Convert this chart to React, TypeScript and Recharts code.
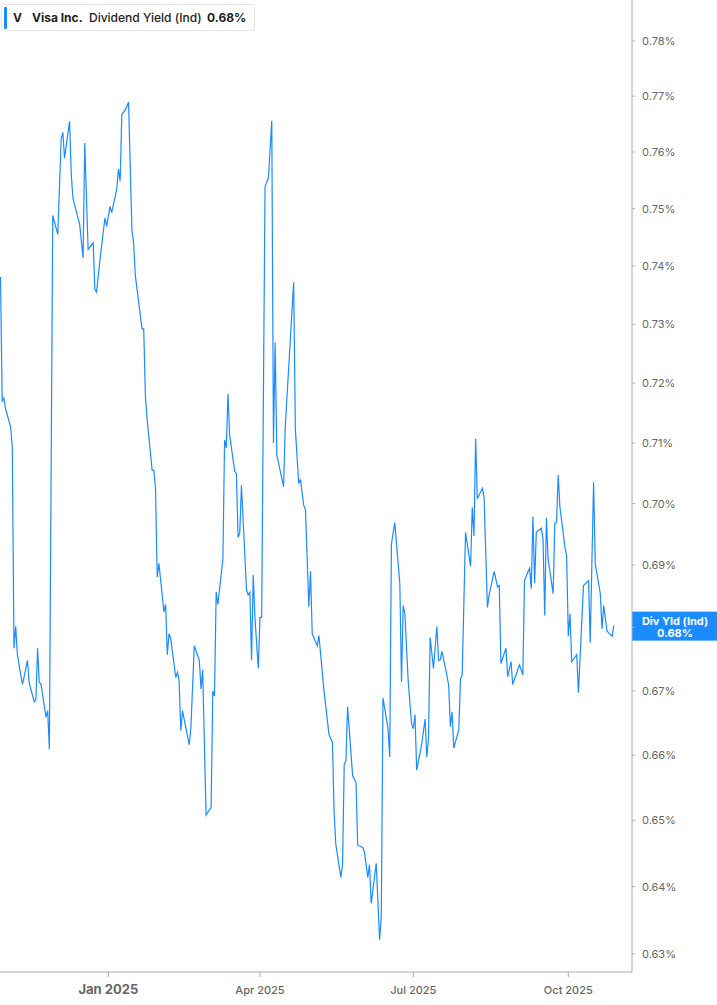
import * as React from "react";
import { Line, LineChart, ReferenceLine, XAxis, YAxis } from "recharts";

// days counted from 1 Jan 2025
const dayOffsets = [
  -64, -63, -62, -61, -58, -57, -56, -55, -54, -51, -50, -48, -47, -44, -43, -42, -41, -40, -37, -36,
  -35, -33, -30, -28, -27, -26, -23, -22, -21, -17, -15, -14, -12, -9, -8, -7, -5, -2, -1, 1,
  2, 5, 6, 7, 8, 10, 12, 14, 15, 16, 20, 21, 22, 23, 26, 27, 28, 29, 30, 33,
  34, 35, 36, 37, 40, 41, 42, 43, 44, 48, 49, 51, 54, 55, 56, 58, 61, 62, 63, 64,
  65, 68, 69, 70, 71, 72, 75, 76, 77, 78, 79, 82, 83, 84, 85, 86, 87, 89, 90, 91,
  93, 95, 97, 98, 99, 100, 104, 105, 110, 111, 113, 114, 116, 117, 119, 120, 121, 124, 125, 128,
  131, 133, 134, 135, 138, 139, 140, 141, 142, 145, 147, 148, 151, 152, 154, 155, 156, 159, 161, 162,
  163, 166, 167, 168, 170, 173, 174, 175, 176, 178, 180, 181, 182, 183, 186, 188, 189, 190, 191, 193,
  195, 196, 197, 198, 201, 202, 203, 204, 205, 208, 209, 210, 212, 215, 216, 217, 218, 219, 222, 223,
  225, 226, 229, 231, 232, 233, 236, 237, 239, 240, 244, 246, 247, 249, 250, 251, 252, 253, 254, 257,
  258, 259, 260, 261, 264, 265, 266, 267, 268, 271, 272, 273, 274, 275, 278, 279, 282, 285, 286, 288,
  289, 292, 293, 294, 296, 299, 300,
];

// dividend yield, percent
const yieldPct = [
  0.7381, 0.717, 0.7175, 0.7157, 0.7127, 0.7092, 0.6767, 0.6802, 0.6757, 0.671, 0.6722, 0.6748, 0.6713, 0.6683, 0.6686, 0.6767, 0.6713, 0.6711, 0.6659, 0.6669,
  0.6609, 0.7488, 0.7455, 0.7624, 0.7635, 0.7589, 0.7655, 0.756, 0.7518, 0.7472, 0.7414, 0.7616, 0.7429, 0.744, 0.736, 0.7355, 0.741, 0.7484, 0.7469, 0.7504,
  0.7493, 0.7535, 0.757, 0.7549, 0.7667, 0.7675, 0.7689, 0.7462, 0.7441, 0.7384, 0.7292, 0.7292, 0.7178, 0.714, 0.7055, 0.7055, 0.7025, 0.6881, 0.6903, 0.6825,
  0.6837, 0.6757, 0.679, 0.6783, 0.6721, 0.6729, 0.6716, 0.6638, 0.6669, 0.6616, 0.6642, 0.6771, 0.6748, 0.6703, 0.6733, 0.6508, 0.652, 0.67, 0.6692, 0.6857,
  0.6837, 0.691, 0.7105, 0.7092, 0.7182, 0.7113, 0.7053, 0.705, 0.6945, 0.6952, 0.703, 0.686, 0.6852, 0.6856, 0.6748, 0.6884, 0.6816, 0.6735, 0.6816, 0.6816,
  0.7539, 0.7554, 0.7656, 0.71, 0.7269, 0.708, 0.7028, 0.7127, 0.7372, 0.7123, 0.7033, 0.704, 0.6997, 0.699, 0.6833, 0.689, 0.679, 0.6771, 0.6787, 0.67,
  0.6631, 0.662, 0.6512, 0.6464, 0.6414, 0.6433, 0.6586, 0.6591, 0.6675, 0.6568, 0.6558, 0.6462, 0.6459, 0.6452, 0.6414, 0.6433, 0.6375, 0.6435, 0.6321, 0.6355,
  0.6689, 0.6641, 0.6597, 0.6934, 0.6969, 0.687, 0.6714, 0.6835, 0.6822, 0.6714, 0.6648, 0.6641, 0.6663, 0.6577, 0.6617, 0.6656, 0.6597, 0.6625, 0.6784, 0.6735,
  0.6802, 0.6748, 0.6749, 0.6762, 0.6724, 0.6708, 0.6644, 0.6667, 0.6611, 0.6639, 0.6719, 0.6724, 0.6953, 0.6898, 0.6994, 0.6947, 0.7107, 0.7008, 0.7025, 0.701,
  0.6832, 0.6852, 0.689, 0.6865, 0.6867, 0.6743, 0.6767, 0.6722, 0.6746, 0.671, 0.6741, 0.6725, 0.6875, 0.6889, 0.6895, 0.6862, 0.6979, 0.6871, 0.6953, 0.696,
  0.6942, 0.6819, 0.6977, 0.691, 0.6854, 0.6968, 0.6969, 0.7047, 0.6995, 0.6929, 0.6915, 0.6786, 0.6822, 0.6746, 0.6757, 0.6697, 0.6867, 0.6875, 0.6776, 0.7035,
  0.6902, 0.6854, 0.6798, 0.6835, 0.6794, 0.6786, 0.6803,
];

const yTicks = [0.63, 0.64, 0.65, 0.66, 0.67, 0.68, 0.69, 0.7, 0.71, 0.72, 0.73, 0.74, 0.75, 0.76, 0.77, 0.78];
const xTicks = [0, 90, 181, 273];
const xTickLabels = ["Jan 2025", "Apr 2025", "Jul 2025", "Oct 2025"];

const data = dayOffsets.map((day, i) => ({ day, value: yieldPct[i] }));
const lastValue = yieldPct[yieldPct.length - 1];

const BLUE = "#1a8cff";
const FONT = "Inter, 'Noto Sans', sans-serif";

const XTick = (props: any) => {
  const { x, y, payload } = props;
  const idx = xTicks.indexOf(payload.value);
  const first = idx === 0;
  return (
    <text
      x={x}
      y={y + 15}
      textAnchor="middle"
      fontFamily={FONT}
      fontSize={first ? 13 : 11}
      fontWeight={first ? 700 : 500}
      fill="#666"
    >
      {xTickLabels[idx]}
    </text>
  );
};

const YTick = (props: any) => {
  const { x, y, payload } = props;
  if (Math.abs(payload.value - 0.68) < 1e-6) return null;
  return (
    <text x={x} y={y + 4} textAnchor="start" fontFamily={FONT} fontSize={11} fill="#666">
      {`${payload.value.toFixed(2)}%`}
    </text>
  );
};

const LastLabel = (props: any) => {
  const { viewBox } = props;
  const left = viewBox.x + viewBox.width;
  const cy = viewBox.y;
  return (
    <g>
      <rect x={left} y={cy - 14} width={717 - left} height={29} fill={BLUE} />
      <text x={left + 43} y={cy - 1} textAnchor="middle" fontFamily={FONT} fontSize={11} fontWeight={700} fill="#fff">
        Div Yld (Ind)
      </text>
      <text x={left + 43} y={cy + 11} textAnchor="middle" fontFamily={FONT} fontSize={11} fontWeight={700} fill="#fff">
        {`${lastValue.toFixed(2)}%`}
      </text>
    </g>
  );
};

const legendItems = [
  { text: "V", left: 11, weight: 700 },
  { text: "Visa Inc.", left: 30, weight: 700 },
  { text: "Dividend Yield (Ind)", left: 87, weight: 500 },
  { text: "0.68%", left: 205, weight: 700 },
];

export default function App() {
  return (
    <div style={{ position: "absolute", left: 0, top: 0, width: 717, height: 1005, background: "#fff" }}>
      <LineChart width={717} height={1005} data={data} margin={{ top: 0, right: 0, bottom: 0, left: 0 }}>
        <XAxis
          dataKey="day"
          type="number"
          domain={[-64.3, 310.8]}
          ticks={xTicks}
          allowDataOverflow
          stroke="#aaa"
          tickSize={5}
          height={33}
          tick={<XTick />}
          interval={0}
        />
        <YAxis
          orientation="right"
          scale="log"
          domain={[0.62735, 0.78752]}
          allowDataOverflow
          ticks={yTicks}
          width={85}
          stroke="#aaa"
          tickSize={3}
          tickMargin={7}
          tick={<YTick />}
          interval={0}
        />
        <Line
          type="linear"
          dataKey="value"
          stroke={BLUE}
          strokeWidth={1.2}
          dot={false}
          activeDot={false}
          isAnimationActive={false}
        />
        <ReferenceLine y={lastValue} stroke="none" label={<LastLabel />} ifOverflow="visible" />
      </LineChart>
      <div
        style={{
          position: "absolute",
          left: 1,
          top: 4,
          width: 252,
          height: 25,
          border: "1px solid #e6e6e6",
          borderRadius: 3,
          background: "#fff",
          fontFamily: FONT,
          fontSize: 12,
          color: "#222",
          whiteSpace: "nowrap",
        }}
      >
        <div style={{ position: "absolute", left: 2, top: 2, width: 3, height: 22, background: BLUE, borderRadius: 1 }} />
        {legendItems.map((item) => (
          <span
            key={item.text}
            style={{ position: "absolute", left: item.left, top: 5, lineHeight: "15px", fontWeight: item.weight }}
          >
            {item.text}
          </span>
        ))}
      </div>
    </div>
  );
}
